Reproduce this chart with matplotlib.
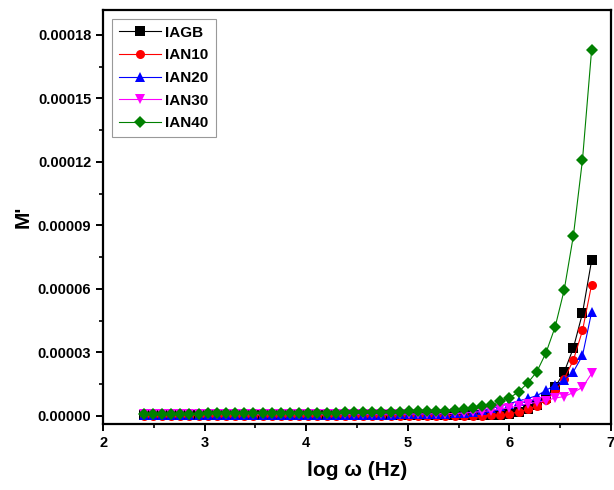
"""M' versus log frequency for the IAGB / IAN samples"""
import matplotlib
matplotlib.use('Agg')
import matplotlib.pyplot as plt
from matplotlib.ticker import MultipleLocator, FormatStrFormatter
import numpy as np

plt.rcParams['font.family'] = ['Liberation Sans', 'DejaVu Sans']
plt.rcParams['font.weight'] = 'bold'

# ============================================================================
# DATA (M' in units of 1e-6)
# ============================================================================
log_w = [2.40, 2.49, 2.58, 2.67, 2.76, 2.85, 2.94, 3.03, 3.12, 3.21,
         3.30, 3.39, 3.48, 3.57, 3.66, 3.75, 3.84, 3.93, 4.02, 4.11,
         4.20, 4.29, 4.38, 4.47, 4.56, 4.65, 4.74, 4.83, 4.92, 5.01,
         5.10, 5.19, 5.28, 5.37, 5.46, 5.55, 5.64, 5.73, 5.82, 5.91,
         6.00, 6.09, 6.18, 6.27, 6.36, 6.45, 6.54, 6.63, 6.72, 6.81]

iagb = [0.3, 0.3, 0.3, 0.3, 0.3, 0.3, 0.3, 0.3, 0.3, 0.3,
        0.3, 0.3, 0.3, 0.3, 0.3, 0.3, 0.3, 0.3, 0.3, 0.3,
        0.3, 0.3, 0.3, 0.3, 0.3, 0.3, 0.3, 0.3, 0.3, 0.3,
        0.3, 0.3, 0.3, 0.3, 0.3, 0.3, 0.3, 0.3, 0.4, 0.6,
        1.0, 1.7, 3.0, 5.2, 8.5, 13.5, 20.7, 32.0, 48.5, 73.5]

ian10 = [0.1, 0.1, 0.1, 0.1, 0.1, 0.1, 0.1, 0.1, 0.1, 0.1,
         0.1, 0.1, 0.1, 0.1, 0.1, 0.1, 0.1, 0.1, 0.1, 0.1,
         0.1, 0.1, 0.1, 0.1, 0.1, 0.1, 0.1, 0.1, 0.1, 0.1,
         0.1, 0.1, 0.1, 0.1, 0.1, 0.1, 0.1, 0.1, 0.2, 0.4,
         0.9, 1.8, 3.0, 4.8, 7.5, 11.5, 17.5, 26.3, 40.3, 62.0]

ian20 = [0.6, 0.6, 0.6, 0.6, 0.6, 0.6, 0.6, 0.6, 0.6, 0.6,
         0.6, 0.6, 0.6, 0.6, 0.6, 0.6, 0.6, 0.6, 0.6, 0.6,
         0.6, 0.6, 0.6, 0.6, 0.6, 0.6, 0.6, 0.6, 0.65, 0.7,
         0.7, 0.75, 0.8, 0.9, 1.1, 1.4, 1.9, 2.6, 3.5, 4.5,
         5.8, 7.0, 8.2, 9.5, 12.0, 14.5, 17.0, 20.8, 28.5, 49.0]

ian30 = [0.7, 0.7, 0.7, 0.7, 0.7, 0.7, 0.7, 0.7, 0.7, 0.7,
         0.7, 0.7, 0.7, 0.7, 0.7, 0.7, 0.7, 0.7, 0.7, 0.7,
         0.75, 0.75, 0.75, 0.8, 0.8, 0.8, 0.8, 0.85, 0.85, 0.85,
         0.9, 0.9, 0.95, 1.0, 1.1, 1.3, 1.6, 2.0, 2.5, 3.2,
         3.8, 4.7, 5.8, 6.3, 7.2, 8.4, 9.1, 11.0, 13.5, 20.0]

ian40 = [0.8, 0.85, 0.9, 0.95, 1.0, 1.0, 1.05, 1.1, 1.1, 1.15,
         1.2, 1.2, 1.25, 1.3, 1.3, 1.35, 1.4, 1.4, 1.45, 1.5,
         1.5, 1.55, 1.6, 1.65, 1.7, 1.75, 1.8, 1.9, 2.0, 2.1,
         2.2, 2.3, 2.4, 2.5, 2.8, 3.2, 3.6, 4.4, 5.2, 6.8,
         8.4, 11.3, 15.5, 20.8, 29.7, 41.9, 59.5, 85.0, 121.0, 173.0]

labels = ['IAGB', 'IAN10', 'IAN20', 'IAN30', 'IAN40']
series = [iagb, ian10, ian20, ian30, ian40]
colors = ['black', 'red', 'blue', 'magenta', '#008000']
markers = ['s', 'o', '^', 'v', 'D']

# ============================================================================
# PLOTTING
# ============================================================================
fig = plt.figure(figsize=(6.14, 4.90), dpi=100)
ax = fig.add_axes([0.168, 0.135, 0.827, 0.845])

for vals, lab, c, m in zip(series, labels, colors, markers):
    ax.plot(log_w, np.array(vals) * 1e-6, color=c, marker=m, markersize=6.5 if m != 'D' else 6,
            linewidth=0.8, markeredgewidth=0, label=lab)

ax.set_xlim(2, 7)
ax.set_ylim(-0.0000038, 0.0001918)
ax.xaxis.set_major_locator(MultipleLocator(1))
ax.xaxis.set_minor_locator(MultipleLocator(0.5))
ax.yaxis.set_major_locator(MultipleLocator(0.00003))
ax.yaxis.set_minor_locator(MultipleLocator(0.000015))
ax.yaxis.set_major_formatter(FormatStrFormatter('%.5f'))

for side in ax.spines.values():
    side.set_linewidth(1.6)
ax.tick_params(which='major', direction='out', length=5, width=1.4, labelsize=10.5)
ax.tick_params(which='minor', direction='out', length=3, width=1.2)
for t in ax.get_xticklabels() + ax.get_yticklabels():
    t.set_fontweight('bold')

ax.set_xlabel('log \u03c9 (Hz)', fontsize=15, fontweight='bold', labelpad=8)
ax.set_ylabel("M'", fontsize=15, fontweight='bold', labelpad=4)

leg = ax.legend(loc='upper left', bbox_to_anchor=(0.002, 0.997), fontsize=11,
                frameon=True, fancybox=False, handlelength=2.8, borderpad=0.45,
                labelspacing=0.57, handletextpad=0.26)
leg.get_frame().set_edgecolor('gray')
leg.get_frame().set_linewidth(0.8)
for t in leg.get_texts():
    t.set_fontweight('bold')

plt.savefig('out.png', dpi=100)
